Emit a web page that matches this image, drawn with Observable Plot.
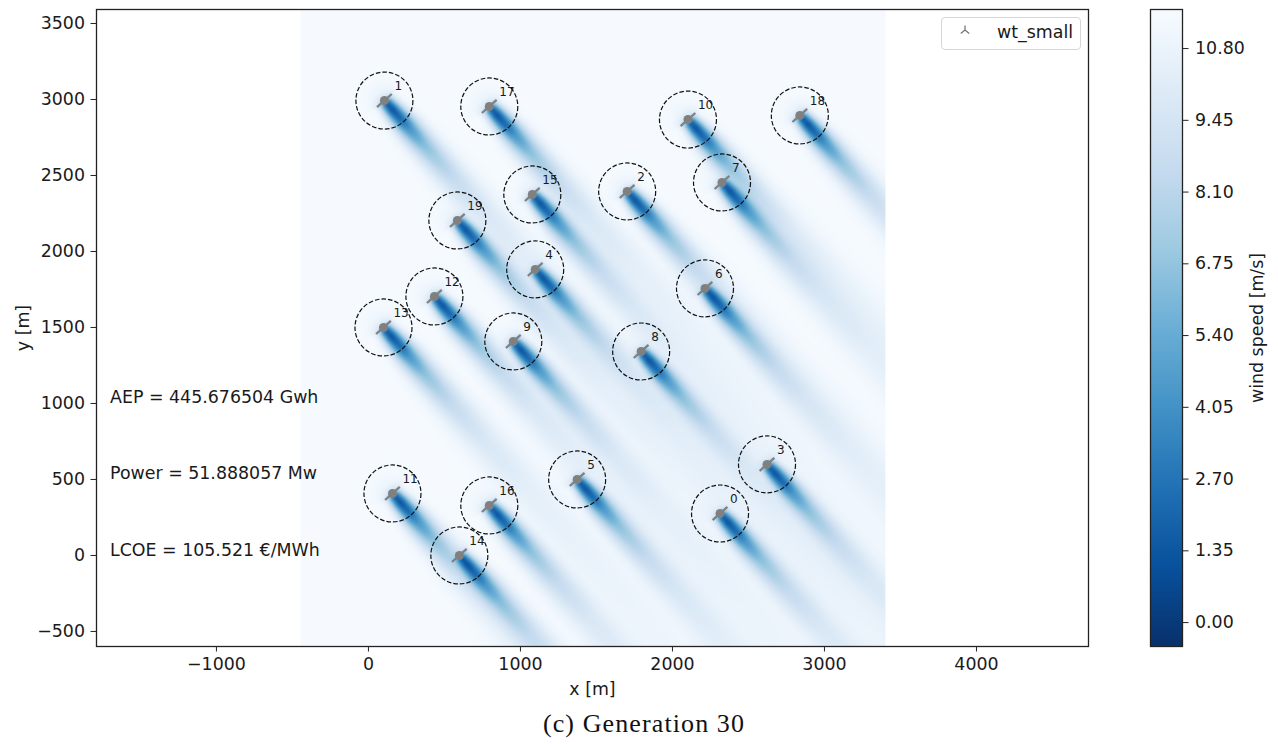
<!DOCTYPE html>
<html>
<head>
<meta charset="utf-8">
<script src="https://cdn.jsdelivr.net/npm/d3@7"></script>
<script src="https://cdn.jsdelivr.net/npm/@observablehq/plot@0.6"></script>
<style>
html,body{margin:0;padding:0;background:#fff;overflow:hidden}
#row{display:flex;width:1278px;position:relative}
#row svg{display:block}
#row text{fill:#1a1a1a}
#legend{position:absolute;left:941px;top:17px;width:140px;height:33px;box-sizing:border-box;border:1px solid #d6d6d6;border-radius:4px;background:#fff;font:17.4px "DejaVu Sans",sans-serif;color:#1a1a1a}
#legend span{position:absolute;left:55px;top:4px}
#legend svg{position:absolute;left:15px;top:5px}
#caption{position:absolute;top:709px;left:0;width:1288px;text-align:center;font:26px "Liberation Serif",serif;letter-spacing:1.1px;color:#111}
</style>
</head>
<body>
<div id="row"></div>
<div id="legend"><svg width="16" height="16"><path d="M8 7V2.5M8 7L3.8 10.5M8 7L12.2 10.5" stroke="#777" stroke-width="1.3" fill="none"/></svg><span>wt_small</span></div>
<div id="caption">(c) Generation 30</div>
<script>
const turbineIds = d3.range(20);
const turbineX = [2313, 105, 1702, 2622, 1097, 1373, 2214, 2326, 1794, 953, 2102, 158, 434, 99, 598, 1078, 795, 795, 2838, 585];
const turbineY = [276, 2993, 2395, 599, 1882, 500, 1757, 2454, 1342, 1408, 2868, 408, 1704, 1500, 0, 2375, 329, 2954, 2895, 2204];
const wakeDistance = [-220, -120, -60, -20, 0, 30, 80, 170, 260, 400, 520, 700, 1000, 1500, 2200, 3500];
const wakeDeficit = [0, 0.2, 0.6, 1.8, 6, 9.5, 10, 9, 7, 5, 4, 2.8, 1.7, 1.0, 0.65, 0.3];
const wakeSigma = [90, 80, 70, 55, 38, 36, 40, 47, 54, 60, 64, 72, 82, 100, 125, 155];
const freeStream = 11.45;
const windDir = [0.665, -0.747];
const colorbarTicks = [0, 1.35, 2.7, 4.05, 5.4, 6.75, 8.1, 9.45, 10.8];
const speedRange = [-0.45, 11.535];
const blues = ["#08306b", "#08519c", "#2171b5", "#4292c6", "#6baed6", "#9ecae1", "#c6dbef", "#deebf7", "#f7fbff"];
const xTicks = [-1000, 0, 1000, 2000, 3000, 4000];
const yTicks = [-500, 0, 500, 1000, 1500, 2000, 2500, 3000, 3500];
const notes = ["AEP = 445.676504 Gwh", "Power = 51.888057 Mw", "LCOE = 105.521 €/MWh"];
const noteY = [1040, 540, 35];
const xDomain = [-1789, 4737];
const yDomain = [-599, 3592];
const fieldX = [-447, 3401];

const fmt = d => String(d).replace("-", "\u2212");
const turbines = turbineIds.map(i => ({id: i, x: turbineX[i], y: turbineY[i]}));
const defAt = d3.scaleLinear(wakeDistance, wakeDeficit).clamp(true);
const sigAt = d3.scaleLinear(wakeDistance, wakeSigma).clamp(true);
const colorScale = {
  type: "linear",
  domain: blues.map((_, i) => speedRange[0] + (speedRange[1] - speedRange[0]) * i / (blues.length - 1)),
  range: blues
};
function speed(x, y) {
  let sum = 0;
  for (const t of turbines) {
    const dx = x - t.x, dy = y - t.y;
    const d = dx * windDir[0] + dy * windDir[1];
    if (d < -220) continue;
    const c = dx * windDir[1] * -1 + dy * windDir[0];
    const s = sigAt(d);
    if (Math.abs(c) > 4 * s) continue;
    const v = defAt(d) * Math.exp(-c * c / (2 * s * s));
    sum += v * v;
  }
  return freeStream - Math.sqrt(sum);
}
const rotorHalf = 65;
const rotorDir = [-windDir[1], windDir[0]];
const common = {style: {fontFamily: "'DejaVu Sans',sans-serif", fontSize: "17.4px", background: "#fff"}};

const main = Plot.plot({
  ...common,
  width: 1140, height: 700,
  marginLeft: 96, marginRight: 52, marginTop: 9, marginBottom: 54,
  x: {domain: xDomain},
  y: {domain: yDomain},
  color: colorScale,
  marks: [
    Plot.raster({
      fill: speed, x1: fieldX[0], x2: fieldX[1], y1: yDomain[0], y2: yDomain[1], pixelSize: 1, clip: true
    }),
    Plot.axisX({ticks: xTicks, tickFormat: fmt, tickSize: 5.5, tickPadding: 6, label: "x [m]", labelAnchor: "center", labelArrow: "none", labelOffset: 48, fontSize: 17.4, stroke: "#222"}),
    Plot.axisY({ticks: yTicks, tickFormat: fmt, tickSize: 5.5, tickPadding: 6, label: "y [m]", labelAnchor: "center", labelArrow: "none", labelOffset: 80, fontSize: 17.4, stroke: "#222"}),
    Plot.link(turbines, {
      x1: d => d.x - rotorDir[0] * rotorHalf, y1: d => d.y - rotorDir[1] * rotorHalf,
      x2: d => d.x + rotorDir[0] * rotorHalf, y2: d => d.y + rotorDir[1] * rotorHalf,
      stroke: "#808080", strokeWidth: 2.2
    }),
    Plot.dot(turbines, {x: "x", y: "y", r: 4.5, fill: "#808080", stroke: "none"}),
    Plot.dot(turbines, {x: "x", y: "y", r: 28.5, fill: "none", stroke: "#111", strokeWidth: 1.2, strokeDasharray: "4.6,2"}),
    Plot.text(turbines, {x: "x", y: "y", text: d => String(d.id), dx: 10, dy: -14.5, textAnchor: "start", fontSize: 12, fill: "#222"}),
    Plot.text(notes, {x: () => -1700, y: (d, i) => noteY[i], text: d => d, textAnchor: "start", fontSize: 17.4, fill: "#111"}),
    Plot.frame({stroke: "#222", strokeWidth: 1.3})
  ]
});

const bar = Plot.plot({
  ...common,
  width: 138, height: 700,
  marginLeft: 10, marginRight: 96, marginTop: 9, marginBottom: 54,
  x: {domain: [0, 1], axis: null},
  y: {domain: speedRange},
  color: colorScale,
  marks: [
    Plot.raster({fill: (x, y) => y, x1: 0, x2: 1, y1: speedRange[0], y2: speedRange[1], pixelSize: 1}),
    Plot.axisY({anchor: "right", ticks: colorbarTicks, tickFormat: d => d.toFixed(2), tickSize: 5.5, tickPadding: 7, label: "wind speed [m/s]", labelAnchor: "center", labelArrow: "none", labelOffset: 80, fontSize: 17.4, stroke: "#222"}),
    Plot.frame({stroke: "#222", strokeWidth: 1.3})
  ]
});

const row = document.getElementById("row");
row.appendChild(main);
row.appendChild(bar);
</script>
</body>
</html>
